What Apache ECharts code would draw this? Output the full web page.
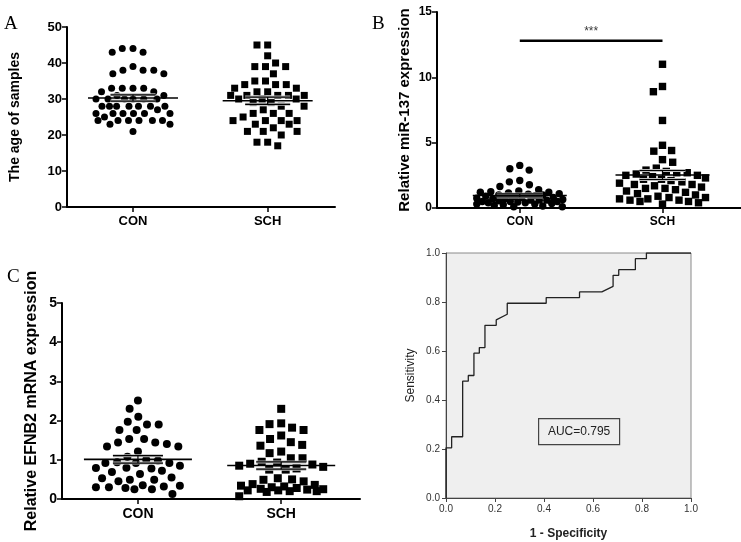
<!DOCTYPE html>
<html>
<head>
<meta charset="utf-8">
<script src="https://cdn.jsdelivr.net/npm/echarts@6/dist/echarts.min.js"></script>
<style>html,body{margin:0;padding:0;background:#fff}#c{width:741px;height:542px}</style>
</head>
<body>
<div id="c"></div>
<script>
// ---------- data ----------
const groups = ['CON', 'SCH'];

const ageCON = [44, 44, 43, 43, 39, 38, 38, 38, 37, 37, 33, 33, 33, 33, 32, 32, 31, 31, 30, 30, 30, 30, 30, 30,
  28, 28, 28, 28, 28, 28, 28, 27, 26, 26, 26, 26, 26, 26, 25, 24, 24, 24, 24, 24, 24, 23, 23, 21];
const ageSCH = [45, 45, 42, 40, 39, 39, 39, 37, 35, 35, 34, 34, 34, 33, 33, 32, 32, 31, 31, 31, 31, 31, 30, 30, 30,
  29, 29, 28, 28, 27, 26, 26, 26, 25, 24, 24, 24, 24, 23, 23, 22, 21, 21, 21, 20, 18, 18, 17];

const mirCON = [3.26, 3.0, 2.9, 2.1, 2.0, 1.78, 1.65, 1.4, 1.3, 1.25, 1.2, 1.2, 1.15, 1.1, 1.05, 1.0, 1.0, 0.95,
  0.9, 0.85, 0.8, 0.8, 0.75, 0.7, 0.7, 0.65, 0.6, 0.6, 0.55, 0.5, 0.5, 0.45, 0.4, 0.4, 0.35, 0.3, 0.3, 0.25,
  0.2, 0.15, 0.1, 0.1, 0.5, 0.6];
const mirSCH = [11.0, 9.3, 8.9, 6.7, 4.8, 4.4, 4.35, 3.7, 3.5, 3.05, 2.9, 2.8, 2.7, 2.7, 2.6, 2.5, 2.5, 2.4, 2.3,
  2.2, 2.2, 2.1, 2.0, 1.9, 1.8, 1.8, 1.7, 1.6, 1.5, 1.5, 1.4, 1.3, 1.2, 1.1, 1.0, 0.9, 0.8, 0.8, 0.7, 0.7, 0.6,
  0.6, 0.5, 0.5, 0.4, 0.3];
const sigLevel = 12.8;
const sigText = '***';

const efnCON = [2.51, 2.30, 2.10, 1.97, 1.90, 1.90, 1.76, 1.76, 1.53, 1.53, 1.44, 1.44, 1.40, 1.34, 1.34, 1.21,
  1.08, 1.0, 0.98, 0.94, 0.92, 0.92, 0.92, 0.85, 0.80, 0.79, 0.78, 0.72, 0.69, 0.64, 0.55, 0.53, 0.49, 0.49,
  0.45, 0.35, 0.34, 0.32, 0.30, 0.30, 0.28, 0.25, 0.25, 0.13];
const efnSCH = [2.30, 1.93, 1.91, 1.82, 1.76, 1.76, 1.62, 1.53, 1.45, 1.38, 1.36, 1.21, 1.17, 1.04, 1.04, 0.95,
  0.93, 0.90, 0.88, 0.85, 0.82, 0.78, 0.75, 0.75, 0.53, 0.50, 0.49, 0.45, 0.38, 0.36, 0.34, 0.32, 0.30, 0.28,
  0.26, 0.25, 0.24, 0.22, 0.22, 0.20, 0.20, 0.18, 0.07];

const rocFPR = [0, 0, 0.023, 0.023, 0.068, 0.068, 0.091, 0.091, 0.114, 0.114, 0.136, 0.136, 0.159, 0.159, 0.205, 0.205,
  0.250, 0.250, 0.409, 0.409, 0.545, 0.545, 0.636, 0.682, 0.682, 0.705, 0.705, 0.773, 0.773, 0.818, 0.818, 1.0];
const rocTPR = [0, 0.205, 0.205, 0.250, 0.250, 0.477, 0.477, 0.500, 0.500, 0.591, 0.591, 0.614, 0.614, 0.705, 0.705, 0.727,
  0.750, 0.795, 0.795, 0.818, 0.818, 0.841, 0.841, 0.864, 0.909, 0.909, 0.932, 0.932, 0.977, 0.977, 1.0, 1.0];
const aucText = 'AUC=0.795';

// ---------- layout helpers ----------
function stats(v) {
  const n = v.length, m = v.reduce((a, b) => a + b, 0) / n;
  const sd = Math.sqrt(v.reduce((a, b) => a + (b - m) * (b - m), 0) / (n - 1));
  return [m, sd / Math.sqrt(n)];
}
// beeswarm offsets in pixels; spacing D, half-width limited to cap (overlap allowed beyond that)
function swarm(vals, ppu, D, cap) {
  const order = vals.map((v, i) => i).sort((a, b) => vals[b] - vals[a]);
  const placed = [], dx = new Array(vals.length).fill(0);
  let side = -1;
  for (const i of order) {
    const y = vals[i] * ppu;
    const near = placed.filter(p => Math.abs(p.y - y) < D);
    const minD = c => near.reduce((m, p) => Math.min(m, Math.hypot(c - p.x, y - p.y)), Infinity);
    const cands = [0];
    near.forEach(p => { const h = Math.sqrt(D * D - (p.y - y) * (p.y - y)); cands.push(p.x - h, p.x + h); });
    let best = null;
    for (const c of cands) {
      if (Math.abs(c) > cap + 1e-6 || minD(c) < D - 1e-6) continue;
      if (best === null || Math.abs(c) < Math.abs(best) - 1e-6 ||
        (Math.abs(Math.abs(c) - Math.abs(best)) < 1e-6 && Math.sign(c) === side)) best = c;
    }
    if (best === null) {
      let bestD = -1;
      for (let c = -cap; c <= cap + 1e-6; c += 0.5) {
        const d = minD(c);
        if (d > bestD + 1e-6 || (Math.abs(d - bestD) < 1e-6 && Math.abs(c) < Math.abs(best))) { bestD = d; best = c; }
      }
    }
    if (Math.abs(best) > 1e-6) side = -side;
    dx[i] = best;
    placed.push({ x: best, y });
  }
  return dx;
}

const FONT = 'Liberation Sans, Arial, sans-serif';
const panels = [
  { grid: { left: 67, top: 27, width: 268, height: 180 }, xmin: 0.51, xmax: 2.5, ymax: 50, yint: 10,
    name: 'The age of samples', nameGap: 45, nameSize: 14, labelSize: 13, vals: [ageCON, ageSCH],
    r: 3.5, D: 10.7, cap: 37, meanW: 90, semW: 45 },
  { grid: { left: 437, top: 12, width: 304, height: 196 }, xmin: 0.42, xmax: 2.55, ymax: 15, yint: 5,
    name: 'Relative miR-137 expression', nameGap: 25, nameSize: 15, labelSize: 12, vals: [mirCON, mirSCH],
    r: 3.7, D: 10.5, cap: 43, meanW: 94, semW: 46 },
  { grid: { left: 62, top: 303, width: 298, height: 196 }, xmin: 0.47, xmax: 2.55, ymax: 5, yint: 1,
    name: 'Relative EFNB2 mRNA expression', nameGap: 22, nameSize: 16, labelSize: 14, vals: [efnCON, efnSCH],
    r: 4, D: 11.7, cap: 42, meanW: 108, semW: 50 }
];

const grids = [], xAxes = [], yAxes = [], series = [];
panels.forEach((p, k) => {
  grids.push(p.grid);
  xAxes.push({
    type: 'value', gridIndex: k, min: p.xmin, max: p.xmax,
    axisLine: { show: true, onZero: false, lineStyle: { color: '#000', width: 2 } },
    axisTick: { show: true, customValues: [1, 2], length: 5, lineStyle: { color: '#000', width: 1.5 } },
    axisLabel: { customValues: [1, 2], formatter: v => groups[Math.round(v) - 1], color: '#000',
      fontFamily: FONT, fontWeight: 'bold', fontSize: p.labelSize, margin: 8 },
    splitLine: { show: false }
  });
  yAxes.push({
    type: 'value', gridIndex: k, min: 0, max: p.ymax, interval: p.yint,
    name: p.name, nameLocation: 'middle', nameGap: p.nameGap,
    nameTextStyle: { color: '#000', fontFamily: FONT, fontWeight: 'bold', fontSize: p.nameSize },
    axisLine: { show: true, lineStyle: { color: '#000', width: 2 } },
    axisTick: { show: true, length: 5, lineStyle: { color: '#000', width: 1.5 } },
    axisLabel: { color: '#000', fontFamily: FONT, fontWeight: 'bold', fontSize: p.labelSize, margin: 5 },
    splitLine: { show: false }
  });
  const ppu = p.grid.height / p.ymax;
  p.vals.forEach((vals, g) => {
    const dx = swarm(vals, ppu, p.D, p.cap);
    const shape = g === 0 ? 'circle' : 'rect';
    series.push({
      type: 'custom', xAxisIndex: k, yAxisIndex: k, clip: false,
      dimensions: ['x', 'y', 'dx'], encode: { x: 0, y: 1 },
      data: vals.map((v, i) => [g + 1, v, dx[i]]),
      renderItem: (params, api) => {
        const c = api.coord([api.value(0), api.value(1)]);
        const x = c[0] + api.value(2), y = c[1], r = p.r;
        return shape === 'circle'
          ? { type: 'circle', shape: { cx: x, cy: y, r: r }, style: { fill: '#000' } }
          : { type: 'rect', shape: { x: x - r, y: y - r, width: 2 * r, height: 2 * r }, style: { fill: '#000' } };
      }
    });
    const st = stats(vals);
    series.push({
      type: 'custom', xAxisIndex: k, yAxisIndex: k, clip: false, z: 5,
      dimensions: ['x', 'm', 's'], encode: { x: 0, y: 1 },
      data: [[g + 1, st[0], st[1]]],
      renderItem: (params, api) => {
        const c = api.coord([api.value(0), api.value(1)]);
        const hi = api.coord([api.value(0), api.value(1) + api.value(2)])[1];
        const lo = api.coord([api.value(0), api.value(1) - api.value(2)])[1];
        const ls = { stroke: '#000', lineWidth: 1.6 };
        const halo = { stroke: '#bbb', lineWidth: 3 };
        return { type: 'group', children: [
          { type: 'line', shape: { x1: c[0] - p.semW / 2, y1: hi, x2: c[0] + p.semW / 2, y2: hi }, style: halo },
          { type: 'line', shape: { x1: c[0] - p.semW / 2, y1: lo, x2: c[0] + p.semW / 2, y2: lo }, style: halo },
          { type: 'line', shape: { x1: c[0] - p.meanW / 2, y1: c[1], x2: c[0] + p.meanW / 2, y2: c[1] }, style: ls },
          { type: 'line', shape: { x1: c[0] - p.semW / 2, y1: hi, x2: c[0] + p.semW / 2, y2: hi }, style: { stroke: '#000', lineWidth: 1.2 } },
          { type: 'line', shape: { x1: c[0] - p.semW / 2, y1: lo, x2: c[0] + p.semW / 2, y2: lo }, style: { stroke: '#000', lineWidth: 1.2 } },
          { type: 'line', shape: { x1: c[0], y1: hi, x2: c[0], y2: lo }, style: { stroke: '#000', lineWidth: 1.2 } }
        ] };
      }
    });
  });
});

// significance bar in panel B
series.push({
  type: 'line', xAxisIndex: 1, yAxisIndex: 1, symbol: 'none', silent: true,
  lineStyle: { color: '#000', width: 2.5 },
  data: [[1, sigLevel], [2, sigLevel]]
});
series.push({
  type: 'scatter', xAxisIndex: 1, yAxisIndex: 1, symbolSize: 0, silent: true,
  data: [[1.5, sigLevel]],
  label: { show: true, position: 'top', distance: 3, formatter: sigText, color: '#000',
    fontFamily: FONT, fontSize: 12 }
});

// ROC panel
grids.push({ left: 446, top: 253, width: 245, height: 245, show: true, backgroundColor: '#efefef',
  borderColor: '#8a8a8a', borderWidth: 1 });
xAxes.push({
  type: 'value', gridIndex: 3, min: 0, max: 1, interval: 0.2,
  name: '1 - Specificity', nameLocation: 'middle', nameGap: 30,
  nameTextStyle: { color: '#222', fontFamily: FONT, fontWeight: 'bold', fontSize: 12 },
  axisLine: { show: true, onZero: false, lineStyle: { color: '#444', width: 1 } },
  axisTick: { show: true, length: 4, lineStyle: { color: '#444' } },
  axisLabel: { color: '#333', fontFamily: FONT, fontSize: 10, margin: 6, formatter: v => v.toFixed(1) },
  splitLine: { show: false }
});
yAxes.push({
  type: 'value', gridIndex: 3, min: 0, max: 1, interval: 0.2,
  name: 'Sensitivity', nameLocation: 'middle', nameGap: 29,
  nameTextStyle: { color: '#222', fontFamily: FONT, fontSize: 12 },
  axisLine: { show: true, onZero: false, lineStyle: { color: '#444', width: 1 } },
  axisTick: { show: true, length: 4, lineStyle: { color: '#444' } },
  axisLabel: { color: '#333', fontFamily: FONT, fontSize: 10, margin: 6, formatter: v => v.toFixed(1) },
  splitLine: { show: false }
});
series.push({
  type: 'line', xAxisIndex: 3, yAxisIndex: 3, symbol: 'none', silent: true,
  lineStyle: { color: '#222', width: 1.3 },
  data: rocFPR.map((f, i) => [f, rocTPR[i]])
});

const letterStyle = { fill: '#000', font: '19px "Liberation Serif", "Times New Roman", serif' };
const chart = echarts.init(document.getElementById('c'), null, { renderer: 'canvas' });
chart.setOption({
  animation: false,
  backgroundColor: '#fff',
  grid: grids, xAxis: xAxes, yAxis: yAxes, series: series,
  graphic: [
    { type: 'text', left: 4, top: 15, style: Object.assign({ text: 'A' }, letterStyle) },
    { type: 'text', left: 372, top: 15, style: Object.assign({ text: 'B' }, letterStyle) },
    { type: 'text', left: 7, top: 268, style: Object.assign({ text: 'C' }, letterStyle) },
    { type: 'group', left: 538, top: 418, children: [
      { type: 'rect', shape: { x: 0, y: 0, width: 81, height: 26 },
        style: { fill: '#efefef', stroke: '#444', lineWidth: 1.2 } },
      { type: 'text', x: 40.5, y: 13, style: { text: aucText, fill: '#222', align: 'center', verticalAlign: 'middle',
        font: '12px "Liberation Sans", Arial, sans-serif' } }
    ] }
  ]
});
</script>
</body>
</html>
